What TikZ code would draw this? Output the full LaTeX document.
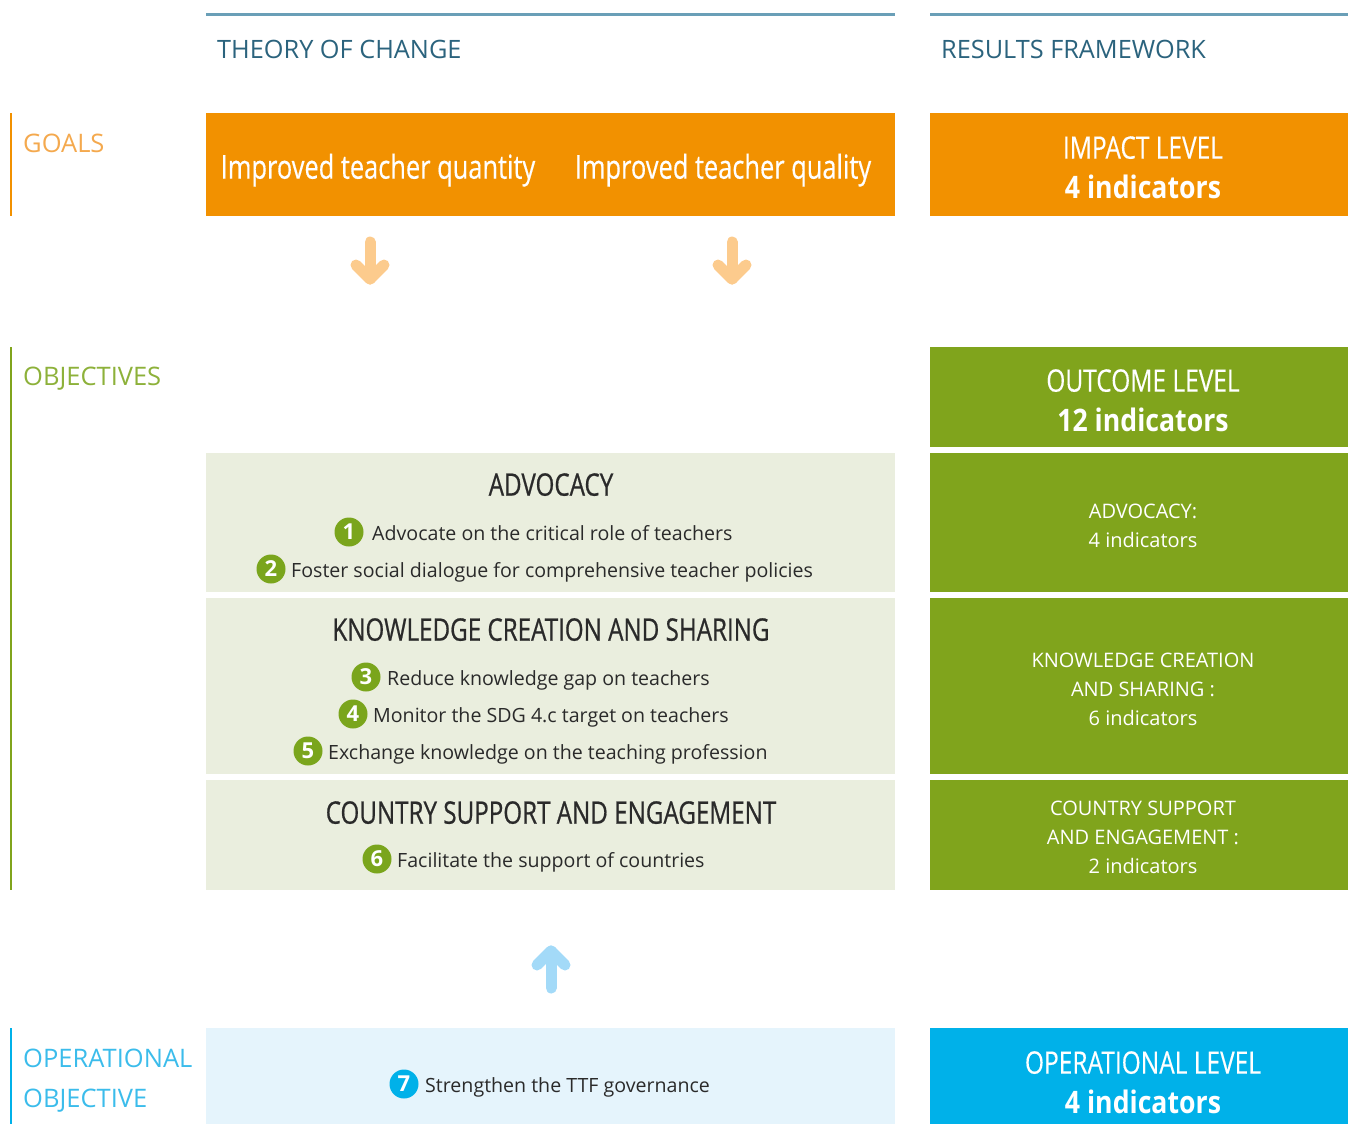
\documentclass[tikz,border=0pt]{standalone}
\usepackage{fontspec}
\setmainfont{Open Sans}
\newfontfamily\condhead[FakeStretch=0.78,FakeBold=0.6]{Open Sans}
\newfontfamily\condgoal[FakeStretch=0.77,FakeBold=0.4]{Open Sans}
\newfontfamily\condlev[FakeStretch=0.79,FakeBold=0.3]{Open Sans}
\newfontfamily\condbold[FakeStretch=0.86]{Open Sans}
\definecolor{cOrange}{HTML}{F29100}
\definecolor{cOrangeLbl}{HTML}{F4A94E}
\definecolor{cOrangeArr}{HTML}{FCCB8D}
\definecolor{cGreen}{HTML}{80A41C}
\definecolor{cGreenLbl}{HTML}{8DB13A}
\definecolor{cGreenNum}{HTML}{7AA51C}
\definecolor{cPaleGreen}{HTML}{EAEEDE}
\definecolor{cBlue}{HTML}{00B1E9}
\definecolor{cBlueLbl}{HTML}{3BBCEB}
\definecolor{cPaleBlue}{HTML}{E5F4FC}
\definecolor{cBlueArr}{HTML}{A3DAF8}
\definecolor{cHeadLine}{HTML}{6A9FB7}
\definecolor{cHeadText}{HTML}{2B637D}
\definecolor{cDark}{HTML}{2A2A2A}
\tikzset{
  headline/.style={cHeadLine,line width=3pt},
  headtxt/.style={anchor=mid west,inner sep=0pt,text=cHeadText,font=\fontsize{25.3}{28}\selectfont},
  sideline/.style={line width=2.5pt},
  sidetxt/.style={anchor=mid west,inner sep=0pt,font=\fontsize{25.5}{29}\selectfont},
  goaltxt/.style={anchor=mid,inner sep=0pt,text=white,font=\condgoal\fontsize{33}{36}\selectfont},
  levtxt/.style={anchor=mid,inner sep=0pt,text=white,font=\condlev\fontsize{31}{34}\selectfont},
  levbold/.style={anchor=mid,inner sep=0pt,text=white,font=\condbold\bfseries\fontsize{31}{34}\selectfont},
  areahead/.style={anchor=mid,inner sep=0pt,text=cDark,font=\condhead\fontsize{31}{34}\selectfont},
  itemtxt/.style={anchor=mid west,inner sep=0pt,text=cDark,font=\fontsize{19.6}{22}\selectfont},
  numc/.style={circle,fill=cGreenNum,text=white,inner sep=0pt,minimum size=29pt,font=\bfseries\fontsize{22}{22}\selectfont},
  righttxt/.style={anchor=center,inner sep=0pt,text=white,align=center,font=\fontsize{20}{29}\selectfont},
  fatarrow/.style={line width=11pt,line cap=round,line join=round},
}
\begin{document}
\begin{tikzpicture}[x=1pt,y=-1pt]
\useasboundingbox (0,0) rectangle (1348,1124);
% header lines and titles
\coordinate (hl1a) at (206,15); \coordinate (hl1b) at (895,15);
\coordinate (hl2a) at (930,15); \coordinate (hl2b) at (1348,15);
\draw[headline] (hl1a) -- (hl1b);
\draw[headline] (hl2a) -- (hl2b);
\node[headtxt] (toc) at (217,56) {THEORY OF CHANGE};
\node[headtxt] (rf) at (941,56) {RESULTS FRAMEWORK};
% side labels
\coordinate (sg1) at (11,113); \coordinate (sg2) at (11,216);
\draw[sideline,cOrange] (sg1) -- (sg2);
\node[sidetxt,text=cOrangeLbl] (goals) at (23,150) {GOALS};
\coordinate (so1) at (11,347); \coordinate (so2) at (11,890);
\draw[sideline,cGreen] (so1) -- (so2);
\node[sidetxt,text=cGreenLbl] (objectives) at (23,383) {OBJECTIVES};
\coordinate (sp1) at (11,1028); \coordinate (sp2) at (11,1124);
\draw[sideline,cBlue] (sp1) -- (sp2);
\node[sidetxt,text=cBlueLbl] (opobj1) at (23,1065) {OPERATIONAL};
\node[sidetxt,text=cBlueLbl] (opobj2) at (23,1105) {OBJECTIVE};
% goals row
\fill[cOrange] (206,113) rectangle (895,216);
\node[goaltxt] (g1) at (378,176) {Improved teacher quantity};
\node[goaltxt] (g2) at (723,176) {Improved teacher quality};
\fill[cOrange] (930,113) rectangle (1348,216);
\node[levtxt] (imp1) at (1143,156) {IMPACT LEVEL};
\node[levbold] (imp2) at (1143,196) {4 indicators};
% down arrows
\coordinate (a1s) at (370,242); \coordinate (a1e) at (370,279);
\coordinate (a1l) at (356,265); \coordinate (a1r) at (384,265);
\draw[fatarrow,cOrangeArr] (a1s) -- (a1e);
\draw[fatarrow,cOrangeArr] (a1l) -- (a1e) -- (a1r);
\coordinate (a2s) at (732,242); \coordinate (a2e) at (732,279);
\coordinate (a2l) at (718,265); \coordinate (a2r) at (746,265);
\draw[fatarrow,cOrangeArr] (a2s) -- (a2e);
\draw[fatarrow,cOrangeArr] (a2l) -- (a2e) -- (a2r);
% outcome level
\fill[cGreen] (930,347) rectangle (1348,447);
\node[levtxt] (out1) at (1143,389) {OUTCOME LEVEL};
\node[levbold] (out2) at (1143,429) {12 indicators};
% advocacy
\fill[cPaleGreen] (206,453) rectangle (895,592);
\node[areahead] (adv) at (551,493) {ADVOCACY};
\node[numc] (c1) at (349,532) {1};
\node[itemtxt] (t1) at (372,537.5) {Advocate on the critical role of teachers};
\node[numc] (c2) at (271,569) {2};
\node[itemtxt] (t2) at (291,574.5) {Foster social dialogue for comprehensive teacher policies};
\fill[cGreen] (930,453) rectangle (1348,592);
\node[righttxt] (radv) at (1143,526) {ADVOCACY:\\4 indicators};
% knowledge
\fill[cPaleGreen] (206,598) rectangle (895,774);
\node[areahead] (kcs) at (551,638) {KNOWLEDGE CREATION AND SHARING};
\node[numc] (c3) at (366,677) {3};
\node[itemtxt] (t3) at (387,682.5) {Reduce knowledge gap on teachers};
\node[numc] (c4) at (353,714) {4};
\node[itemtxt] (t4) at (373,719.5) {Monitor the SDG 4.c target on teachers};
\node[numc] (c5) at (308,751) {5};
\node[itemtxt] (t5) at (328,756.5) {Exchange knowledge on the teaching profession};
\fill[cGreen] (930,598) rectangle (1348,774);
\node[righttxt] (rkcs) at (1143,689) {KNOWLEDGE CREATION\\AND SHARING :\\6 indicators};
% country
\fill[cPaleGreen] (206,780) rectangle (895,890);
\node[areahead] (csc) at (551,821) {COUNTRY SUPPORT AND ENGAGEMENT};
\node[numc] (c6) at (377,859) {6};
\node[itemtxt] (t6) at (397,864.5) {Facilitate the support of countries};
\fill[cGreen] (930,780) rectangle (1348,890);
\node[righttxt] (rcsc) at (1143,837) {COUNTRY SUPPORT\\AND ENGAGEMENT :\\2 indicators};
% up arrow
\coordinate (ub) at (551,988); \coordinate (ut) at (551,951);
\coordinate (ul) at (537,965); \coordinate (ur) at (565,965);
\draw[fatarrow,cBlueArr] (ub) -- (ut);
\draw[fatarrow,cBlueArr] (ul) -- (ut) -- (ur);
% operational
\fill[cPaleBlue] (206,1028) rectangle (895,1124);
\node[numc,fill=cBlue] (c7) at (404,1084) {7};
\node[itemtxt] (t7) at (425,1089.5) {Strengthen the TTF governance};
\fill[cBlue] (930,1028) rectangle (1348,1124);
\node[levtxt] (op1) at (1143,1071) {OPERATIONAL LEVEL};
\node[levbold] (op2) at (1143,1111) {4 indicators};
\end{tikzpicture}
\end{document}
